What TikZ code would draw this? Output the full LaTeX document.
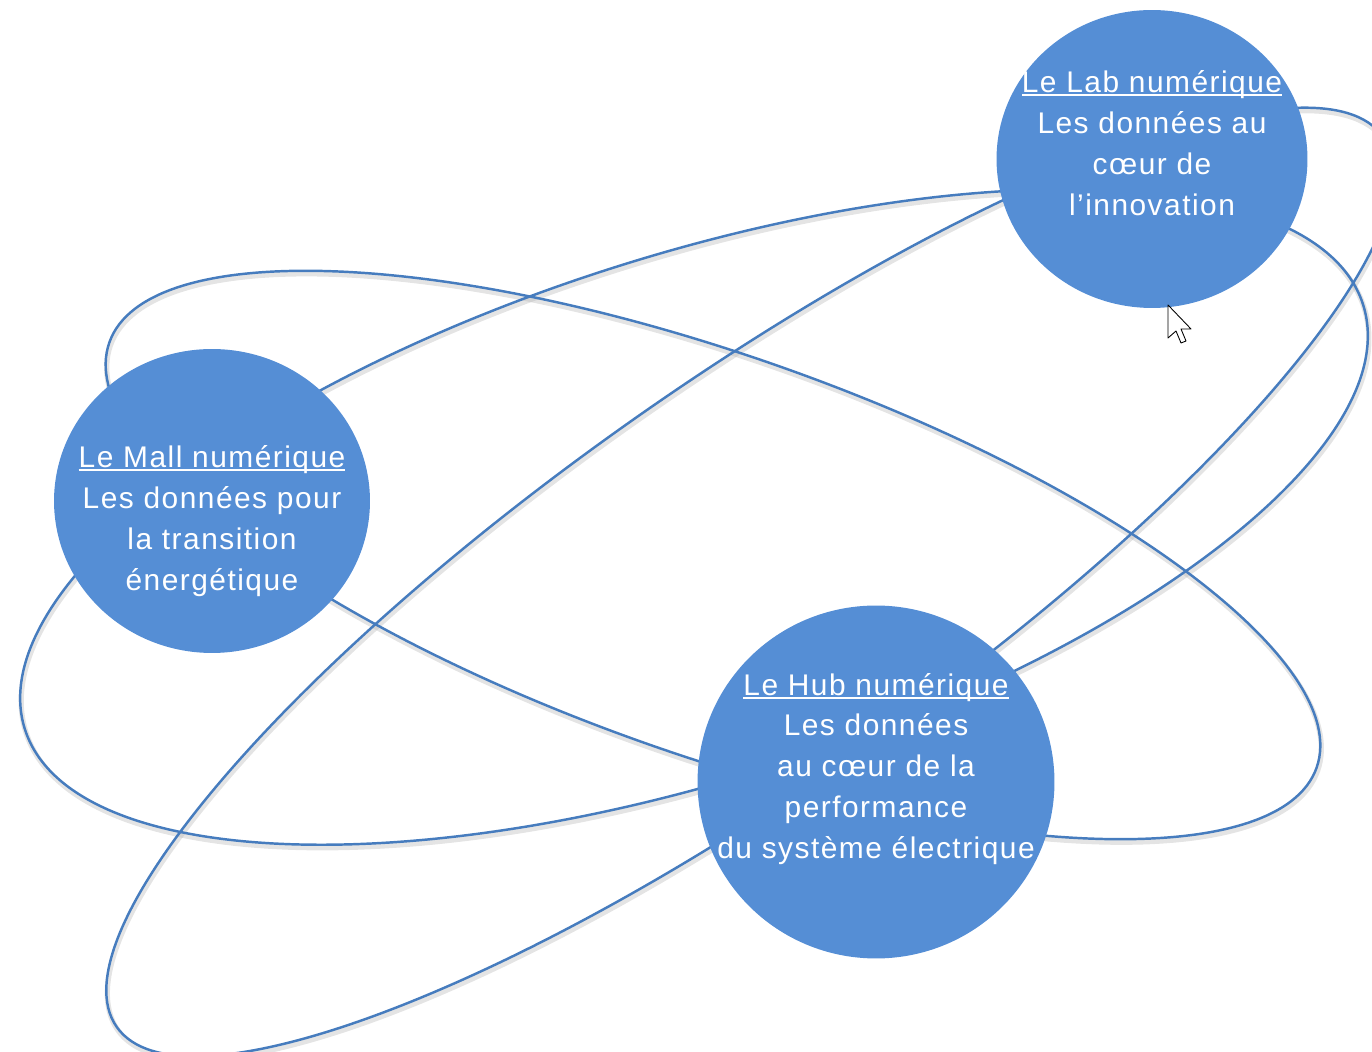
\documentclass[tikz,border=0pt]{standalone}
\usepackage{xcolor}
\usepackage{fontspec}
\setmainfont{Liberation Sans}[LetterSpace=5]
\usepackage{tikz}
\usetikzlibrary{shapes.geometric}
\definecolor{discblue}{RGB}{85,142,213}
\definecolor{orbitblue}{RGB}{70,124,190}
\newcommand{\disctitle}[1]{\setbox0\hbox{#1}\rlap{\rule[-2.2pt]{\wd0}{1.1pt}}\box0}
\tikzset{orbit/.style={orbitblue, line width=1.4pt}}
\tikzset{orbitshadow/.style={black!30, line width=3pt, opacity=0.35}}
\tikzset{disc/.style={ellipse, fill=discblue, inner sep=0pt}}
\tikzset{disctext/.style={text=white, align=center, font=\fontsize{17}{23.3}\selectfont}}

\begin{document}
\begin{tikzpicture} [x=0.02cm, y=0.02cm]
\useasboundingbox (0,0) rectangle (1372,1051);
\clip (0,0) rectangle (1372,1051);
\foreach \cx/\cy/\a/\b/\r in {713/496/640/200/-19.4, 694/534/702/262/17.6, 750/469/774/200/35.1} {
 \draw[orbitshadow, rotate around={\r:(\cx+1,\cy-3)}] (\cx+1,\cy-3) ellipse ({\a} and {\b});
}
\foreach \cx/\cy/\a/\b/\r in {713/496/640/200/-19.4, 694/534/702/262/17.6, 750/469/774/200/35.1} {
 \draw[orbit, rotate around={\r:(\cx,\cy)}] (\cx,\cy) ellipse ({\a} and {\b});
}
\node[disc, minimum width=6.32cm, minimum height=6.08cm] (mall) at (212,550) {};
\node[disc, minimum width=7.14cm, minimum height=7.06cm] (hub) at (876,269) {};
\node[disc, minimum width=6.22cm, minimum height=5.96cm] (lab) at (1152,892) {};
\node[disctext] (mall text) at ([yshift=-0.40cm]mall.center) {\disctitle{Le Mall numérique}\\Les données pour\\la transition\\énergétique};
\node[disctext] (hub text) at ([yshift=0.26cm]hub.center) {\disctitle{Le Hub numérique}\\Les données\\au cœur de la\\performance\\du système électrique};
\node[disctext] (lab text) at ([yshift=0.32cm]lab.center) {\disctitle{Le Lab numérique}\\Les données au\\cœur de\\l’innovation};
\draw[fill=white, line width=0.5pt, line join=round, shift={(1168,746)}] (0,0) -- (0,-33) -- (8,-26) -- (13,-38) -- (18,-36) -- (13,-24) -- (23,-24) -- cycle;
\end{tikzpicture}
\end{document}
